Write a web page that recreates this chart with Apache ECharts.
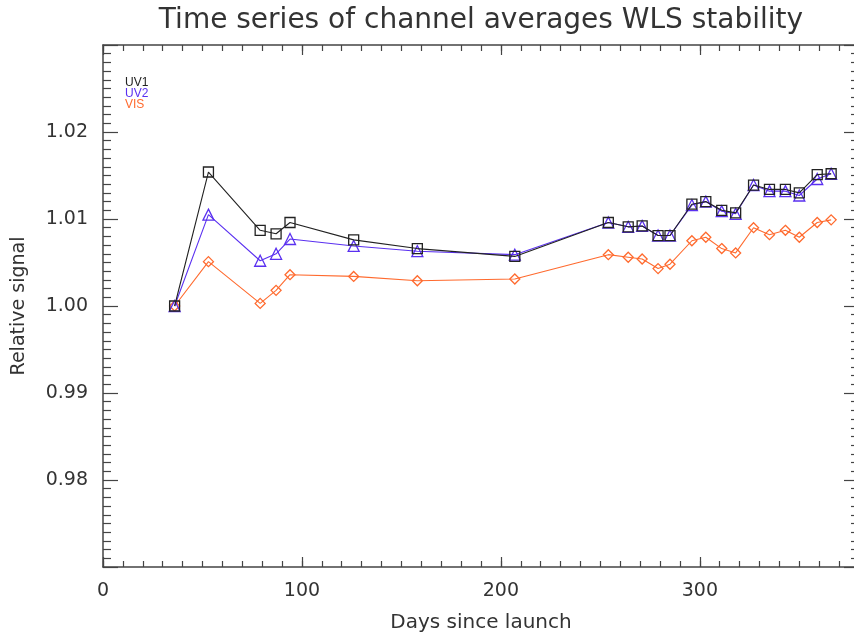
<!DOCTYPE html>
<html>
<head>
<meta charset="utf-8">
<script src="https://cdn.jsdelivr.net/npm/echarts@6/dist/echarts.min.js"></script>
<style>html,body{margin:0;padding:0;background:#fff}#c{width:854px;height:639px}</style>
</head>
<body>
<div id="c"></div>
<script>
const days = [36, 53, 79, 87, 94, 126, 158, 207, 254, 264, 271, 279, 285, 296, 303, 311, 318, 327, 335, 343, 350, 359, 366];
const uv1 = [1.0000, 1.0154, 1.0087, 1.0083, 1.0096, 1.0076, 1.0066, 1.0057, 1.0096, 1.0091, 1.0092, 1.0081, 1.0081, 1.0117, 1.0120, 1.0110, 1.0107, 1.0139, 1.0134, 1.0134, 1.0130, 1.0151, 1.0152];
const uv2 = [1.0000, 1.0105, 1.0052, 1.0060, 1.0077, 1.0069, 1.0063, 1.0059, 1.0096, 1.0091, 1.0092, 1.0081, 1.0081, 1.0116, 1.0120, 1.0109, 1.0106, 1.0139, 1.0132, 1.0132, 1.0127, 1.0146, 1.0152];
const vis = [1.0000, 1.0051, 1.0003, 1.0018, 1.0036, 1.0034, 1.0029, 1.0031, 1.0059, 1.0056, 1.0054, 1.0043, 1.0048, 1.0075, 1.0079, 1.0066, 1.0061, 1.0090, 1.0082, 1.0087, 1.0079, 1.0096, 1.0099];
const seriesNames = ['UV1', 'UV2', 'VIS'];
const xTickLabels = [0, 100, 200, 300];
const yTickLabels = [0.98, 0.99, 1.00, 1.01, 1.02];

const colors = ['#222222', '#5a30f0', '#ff6a2e'];
const symbols = ['rect', 'triangle', 'diamond'];
const FONT = 'DejaVu Sans';
const AX = '#444';

const chart = echarts.init(document.getElementById('c'), null, {renderer: 'canvas'});

function majorX(pos, showLabels) {
  return {
    type: 'value', gridIndex: 0, position: pos, min: 0, max: 380, interval: 100,
    axisLine: {show: true, onZero: false, lineStyle: {color: AX, width: 1.5}},
    axisTick: {show: true, inside: true, length: 10, lineStyle: {color: AX, width: 1.2}},
    splitLine: {show: false},
    axisLabel: {show: showLabels, margin: 15, color: '#333', fontFamily: FONT, fontSize: 19,
      formatter: v => xTickLabels.indexOf(Math.round(v)) >= 0 ? String(Math.round(v)) : ''},
    name: showLabels ? 'Days since launch' : '', nameLocation: 'middle', nameGap: 46,
    nameTextStyle: {color: '#333', fontFamily: FONT, fontSize: 20}
  };
}
function minorX(pos) {
  return {
    type: 'value', gridIndex: 1, position: pos, min: 0, max: 380, interval: 10,
    axisLine: {show: false, onZero: false},
    axisTick: {show: true, inside: true, length: 6, lineStyle: {color: AX, width: 1.2}},
    splitLine: {show: false}, axisLabel: {show: false}
  };
}
function majorY(pos, showLabels) {
  return {
    type: 'value', gridIndex: 0, position: pos, min: 0.97, max: 1.03, interval: 0.01,
    axisLine: {show: true, onZero: false, lineStyle: {color: AX, width: 1.5}},
    axisTick: {show: true, inside: true, length: 15, lineStyle: {color: AX, width: 1.2}},
    minorTick: {show: true, splitNumber: 10, length: 8, lineStyle: {color: AX, width: 1.2}},
    splitLine: {show: false}, minorSplitLine: {show: false},
    axisLabel: {show: showLabels, margin: 15, color: '#333', fontFamily: FONT, fontSize: 19,
      showMinLabel: false, showMaxLabel: false,
      formatter: v => {
        const r = Math.round(v * 100) / 100;
        return yTickLabels.some(t => Math.abs(t - r) < 1e-9) ? r.toFixed(2) : '';
      }},
    name: showLabels ? 'Relative signal' : '', nameLocation: 'middle', nameGap: 74, nameRotate: 90,
    nameTextStyle: {color: '#333', fontFamily: FONT, fontSize: 19}
  };
}
function hiddenY() {
  return {type: 'value', gridIndex: 1, min: 0.97, max: 1.03, show: false};
}

const data = [uv1, uv2, vis];
const series = data.map((arr, i) => ({
  name: seriesNames[i], type: 'line', xAxisIndex: 0, yAxisIndex: 0,
  data: days.map((d, k) => [d, arr[k]]),
  symbol: symbols[i], symbolSize: i === 2 ? 10 : (i === 1 ? 11 : 10),
  showAllSymbol: true, animation: false,
  lineStyle: {color: colors[i], width: 1.1},
  itemStyle: {color: 'rgba(255,255,255,0)', borderColor: colors[i], borderWidth: 1.3},
  z: 5 - i
}));

const gridRect = {left: 103, width: 756, top: 45, height: 522, containLabel: false, outerBoundsMode: 'none'};

chart.setOption({
  backgroundColor: '#ffffff',
  animation: false,
  grid: [Object.assign({}, gridRect), Object.assign({}, gridRect)],
  xAxis: [majorX('bottom', true), majorX('top', false), minorX('bottom'), minorX('top')],
  yAxis: [majorY('left', true), majorY('right', false), hiddenY()],
  series: series,
  graphic: [
    {type: 'text', x: 481, y: 7, style: {text: 'Time series of channel averages WLS stability',
      fill: '#333', font: '28px "DejaVu Sans"', textAlign: 'center', textVerticalAlign: 'top'}},
    {type: 'text', x: 125, y: 77, style: {text: seriesNames[0], fill: colors[0], font: '12px "Liberation Sans"'}},
    {type: 'text', x: 125, y: 88, style: {text: seriesNames[1], fill: colors[1], font: '12px "Liberation Sans"'}},
    {type: 'text', x: 125, y: 99, style: {text: seriesNames[2], fill: colors[2], font: '12px "Liberation Sans"'}}
  ]
});
</script>
</body>
</html>
